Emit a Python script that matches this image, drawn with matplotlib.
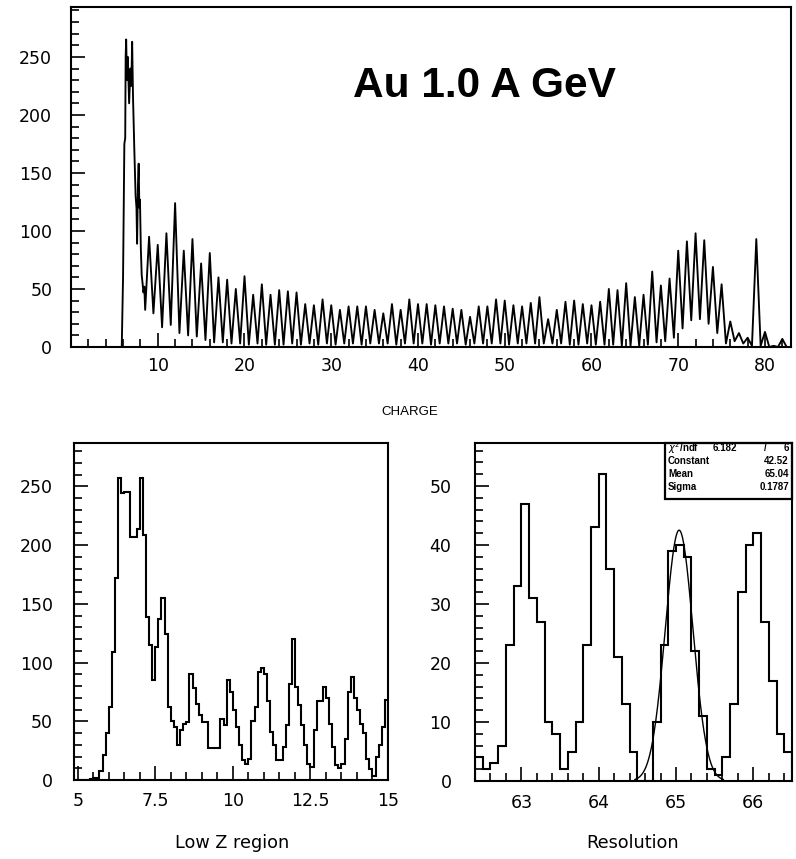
import numpy as np
import matplotlib
matplotlib.use("Agg")
import matplotlib.pyplot as plt
from matplotlib.ticker import MultipleLocator, FixedLocator, FixedFormatter
from matplotlib.patches import Rectangle

# ---------------- data ----------------
# Full charge spectrum: onset region drawn point by point
head_charge = [0.2, 5.85, 6.0, 6.15, 6.25, 6.3, 6.36, 6.45, 6.55, 6.7, 6.85, 6.95,
               7.05, 7.15, 7.3, 7.45, 7.55, 7.62, 7.72, 7.8, 7.88, 7.95, 8.05,
               8.15, 8.25, 8.35, 8.45, 8.55]
head_counts = [0, 0, 60, 175, 180, 250, 265, 230, 250, 210, 240, 225,
               263, 215, 170, 130, 120, 89, 140, 158, 120, 127, 85,
               62, 55, 47, 52, 32]

# Element peaks Z = 9 ... 82 and the minimum that follows each peak
peak_charge = np.arange(9, 83)
peak_counts = [95, 88, 98, 124, 83, 93, 72, 81, 60, 58, 50, 61, 45, 54, 45, 49,
               48, 47, 37, 36, 41, 36, 32, 35, 35, 35, 32, 29, 37, 32, 41, 37,
               37, 36, 35, 33, 32, 26, 35, 35, 41, 40, 36, 35, 38, 43, 24, 32,
               39, 40, 37, 36, 39, 50, 49, 55, 43, 45, 65, 53, 59, 83, 91, 98,
               92, 69, 54, 22, 12, 8, 93, 13, 1, 7]
valley_counts = [29, 17, 19, 12, 10, 9, 6, 4, 4, 3, 3, 2, 3, 2, 2, 2,
                 3, 2, 3, 2, 3, 2, 3, 3, 2, 3, 3, 3, 2, 3, 3, 3,
                 2, 3, 3, 3, 2, 3, 3, 3, 3, 2, 3, 3, 3, 3, 3, 3,
                 2, 2, 3, 2, 2, 2, 1, 1, 1, 2, 4, 5, 8, 16, 23, 24,
                 20, 12, 3, 5, 3, 1, 1, 0, 0, 0]

# Low Z region histogram, 0.1 wide bins starting at 4.9
lowz_start, lowz_width = 4.9, 0.1
lowz_counts = [0, 0, 0, 0, 0, 1, 2, 2, 8, 21,
               40, 62, 109, 172, 257, 244, 245, 245, 207, 207,
               214, 257, 209, 139, 115, 85, 113, 137, 155, 124,
               62, 50, 45, 30, 43, 48, 49, 90, 78, 65,
               55, 49, 49, 27, 27, 27, 27, 52, 47, 85,
               75, 60, 45, 30, 17, 14, 18, 50, 62, 92,
               95, 90, 67, 41, 30, 17, 17, 28, 47, 82,
               120, 79, 64, 47, 30, 14, 11, 43, 67, 67,
               79, 70, 48, 28, 13, 10, 14, 35, 75, 88,
               70, 60, 48, 40, 18, 9, 3, 20, 30, 45, 68]

# Resolution histogram around Z = 63 ... 66, 0.1 wide bins starting at 62.4
res_start, res_width = 62.4, 0.1
res_counts = [4, 2, 3, 6, 23, 33, 47, 31, 27, 10,
              8, 2, 5, 10, 23, 43, 52, 36, 21, 13,
              5, 0, 0, 10, 23, 39, 40, 38, 22, 11,
              2, 1, 4, 13, 32, 40, 42, 27, 17, 8, 5]

# Gaussian fit of the Z = 65 peak
fit_chi2, fit_ndf = 6.182, 6
fit_const, fit_mean, fit_sigma = 42.52, 65.04, 0.1787

# ---------------- figure ----------------
W, H = 796, 859
fig = plt.figure(figsize=(W / 100, H / 100), dpi=100)

TICK_FONT = dict(family="DejaVu Sans", size=12.5)


def axes_px(left, top, right, bottom):
    return fig.add_axes([left / W, 1 - bottom / H, (right - left) / W, (bottom - top) / H])


def style(ax, ypad=13.5, xpad=7):
    for s in ax.spines.values():
        s.set_linewidth(1.5)
    ax.tick_params(which="both", direction="in", top=False, right=False,
                   width=1.2, color="black")
    ax.tick_params(which="major", length=10)
    ax.tick_params(which="minor", length=5.5)
    ax.tick_params(axis="y", pad=ypad)
    ax.tick_params(axis="x", pad=xpad)
    for lab in ax.get_xticklabels() + ax.get_yticklabels():
        lab.set_fontfamily(TICK_FONT["family"])
        lab.set_fontsize(TICK_FONT["size"])


# ---- top: full charge spectrum ----
ax_top = axes_px(71, 7, 791, 347)
x_top = np.concatenate([head_charge,
                        np.column_stack([peak_charge, peak_charge + 0.5]).ravel()])
y_top = np.concatenate([head_counts,
                        np.column_stack([peak_counts, valley_counts]).ravel()])
ax_top.plot(x_top, y_top, color="black", lw=1.35)
ax_top.set_xlim(0, 83)
ax_top.set_ylim(0, 293)
ax_top.xaxis.set_major_locator(FixedLocator(np.arange(10, 81, 10)))
ax_top.xaxis.set_minor_locator(MultipleLocator(2))
ax_top.yaxis.set_major_locator(MultipleLocator(50))
ax_top.yaxis.set_minor_locator(MultipleLocator(10))
style(ax_top, ypad=13.5, xpad=7)
ax_top.text(0.574, 0.768, "Au 1.0 A GeV", transform=ax_top.transAxes,
            ha="center", va="center", fontsize=30.5, fontweight="bold",
            family="Liberation Sans")

# ---- bottom left: low Z region ----
ax_low = axes_px(74, 443, 388, 780)
lowz_edges = lowz_start + lowz_width * np.arange(len(lowz_counts) + 1)
ax_low.stairs(lowz_counts, lowz_edges, color="black", lw=1.5)
ax_low.set_xlim(4.88, 15.0)
ax_low.set_ylim(0, 287)
ax_low.xaxis.set_major_locator(FixedLocator([5, 7.5, 10, 12.5, 15]))
ax_low.xaxis.set_major_formatter(FixedFormatter(["5", "7.5", "10", "12.5", "15"]))
ax_low.xaxis.set_minor_locator(MultipleLocator(0.5))
ax_low.yaxis.set_major_locator(MultipleLocator(50))
ax_low.yaxis.set_minor_locator(MultipleLocator(10))
style(ax_low, ypad=15, xpad=9)

# ---- bottom right: resolution ----
ax_res = axes_px(475, 443, 792, 781)
res_edges = res_start + res_width * np.arange(len(res_counts) + 1)
ax_res.stairs(res_counts, res_edges, color="black", lw=1.5)
xf = np.linspace(fit_mean - 3.2 * fit_sigma, fit_mean + 3.2 * fit_sigma, 200)
ax_res.plot(xf, fit_const * np.exp(-0.5 * ((xf - fit_mean) / fit_sigma) ** 2),
            color="black", lw=1.0)
ax_res.set_xlim(62.4, 66.5)
ax_res.set_ylim(0, 57.3)
ax_res.xaxis.set_major_locator(FixedLocator([63, 64, 65, 66]))
ax_res.xaxis.set_minor_locator(MultipleLocator(0.2))
ax_res.yaxis.set_major_locator(MultipleLocator(10))
ax_res.yaxis.set_minor_locator(MultipleLocator(2))
style(ax_res, ypad=17, xpad=9)

# statistics box
ax_res.add_patch(Rectangle((0.599, 0.834), 0.401, 0.166, transform=ax_res.transAxes,
                           fill=False, lw=1.6, color="black", clip_on=False))
stat_font = dict(family="Liberation Sans", fontsize=7, fontweight="bold",
                 transform=ax_res.transAxes, va="center")
rows_y = [0.985, 0.946, 0.908, 0.871]
ax_res.text(0.609, rows_y[0], r"$\chi^2$/ndf", ha="left", **stat_font)
ax_res.text(0.826, rows_y[0], f"{fit_chi2:.3f}", ha="right", **stat_font)
ax_res.text(0.915, rows_y[0], "/", ha="center", **stat_font)
ax_res.text(0.990, rows_y[0], f"{fit_ndf}", ha="right", **stat_font)
for y, name, val in zip(rows_y[1:], ["Constant", "Mean", "Sigma"],
                        [f"{fit_const:.2f}", f"{fit_mean:.2f}", f"{fit_sigma:.4f}"]):
    ax_res.text(0.609, y, name, ha="left", **stat_font)
    ax_res.text(0.990, y, val, ha="right", **stat_font)

# axis titles
fig.text(410 / W, 1 - 412 / H, "CHARGE", ha="center", va="center",
         fontsize=9.5, family="Liberation Sans")
fig.text(232 / W, 1 - 843 / H, "Low Z region", ha="center", va="center",
         fontsize=12.7, family="DejaVu Sans")
fig.text(633 / W, 1 - 843 / H, "Resolution", ha="center", va="center",
         fontsize=12.7, family="DejaVu Sans")

fig.savefig("out.png", dpi=100)
